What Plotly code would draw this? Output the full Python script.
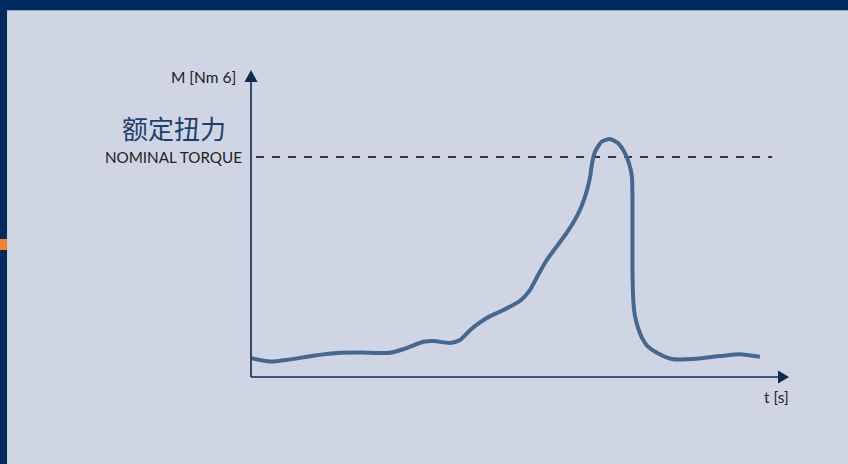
import plotly.graph_objects as go

# ---- data ----
t_s = [0.01, 0.37, 0.77, 1.22, 1.75, 2.14, 2.73, 2.99, 3.38, 3.58, 3.90, 4.10,
       4.29, 4.49, 4.69, 4.88, 5.08, 5.28, 5.47, 5.63, 5.80, 5.99, 6.19, 6.35,
       6.48, 6.59, 6.65, 6.69, 6.75, 6.88, 7.04, 7.20, 7.33, 7.41, 7.47, 7.48,
       7.48, 7.48, 7.50, 7.53, 7.59, 7.67, 7.77, 7.96, 8.25, 8.67, 9.20, 9.59, 9.98]
torque = [0.51, 0.42, 0.48, 0.58, 0.66, 0.67, 0.66, 0.76, 0.96, 0.98, 0.93, 1.01,
          1.27, 1.49, 1.66, 1.78, 1.92, 2.08, 2.37, 2.78, 3.19, 3.55, 3.93, 4.28,
          4.65, 5.10, 5.46, 5.84, 6.15, 6.42, 6.49, 6.37, 6.11, 5.84, 5.46, 4.75,
          3.83, 2.92, 2.02, 1.66, 1.34, 1.06, 0.85, 0.66, 0.49, 0.49, 0.57, 0.62, 0.55]
nominal_torque = 6.0
x_range = [0, 10.55]
y_range = [0, 8.37]

y_label = "M [Nm 6]"
x_label = "t [s]"
nominal_cn = "额定扭力"
nominal_en = "NOMINAL TORQUE"

BG = "#cfd5e2"
NAVY = "#002b5e"
AXIS = "#0e2a50"
CURVE = "#44688f"
ORANGE = "#f5822a"
FONT = "Lato, Noto Sans CJK SC, sans-serif"

fig = go.Figure()

# nominal torque dashed line
fig.add_trace(go.Scatter(
    x=[0.1, 10.22], y=[nominal_torque, nominal_torque], mode="lines",
    line=dict(color="#000000", width=1.4, dash="8px,8px"),
    hoverinfo="skip", showlegend=False))

# torque curve
fig.add_trace(go.Scatter(
    x=t_s, y=torque, mode="lines",
    line=dict(color=CURVE, width=4, shape="spline", smoothing=0.6),
    showlegend=False))

shapes = [
    # frame
    dict(type="rect", xref="paper", yref="paper", x0=-0.6, x1=1.2, y0=1.195, y1=1.3,
         fillcolor=NAVY, line=dict(width=0), layer="below"),
    dict(type="rect", xref="paper", yref="paper", x0=-0.6, x1=-0.4535, y0=-0.4, y1=1.3,
         fillcolor=NAVY, line=dict(width=0), layer="below"),
    dict(type="rect", xref="paper", yref="paper", x0=-0.6, x1=-0.4535, y0=0.4137, y1=0.4495,
         fillcolor=ORANGE, line=dict(width=0), layer="below"),
    # axis lines
    dict(type="line", xref="paper", yref="paper", x0=0, x1=0.99, y0=0, y1=0,
         line=dict(color=AXIS, width=1.6)),
    dict(type="line", xref="paper", yref="paper", x0=0, x1=0, y0=0, y1=0.98,
         line=dict(color=AXIS, width=1.6)),
    # arrowheads
    dict(type="path", xref="paper", yref="paper", xsizemode="pixel", ysizemode="pixel",
         xanchor=1, yanchor=0, path="M 0,0 L -11,6.5 L -11,-6.5 Z",
         fillcolor=AXIS, line=dict(width=0)),
    dict(type="path", xref="paper", yref="paper", xsizemode="pixel", ysizemode="pixel",
         xanchor=0, yanchor=1, path="M 0,0 L -6.5,-12 L 6.5,-12 Z",
         fillcolor=AXIS, line=dict(width=0)),
]

annotations = [
    dict(text=y_label, xref="paper", yref="paper", x=-0.025, y=0.978,
         xanchor="right", yanchor="middle", showarrow=False,
         font=dict(family=FONT, size=15.5, color="#222222")),
    dict(text=nominal_cn, xref="paper", yref="paper", x=-0.143, y=0.808,
         xanchor="center", yanchor="middle", showarrow=False,
         font=dict(family=FONT, size=26, color="#1d3f6d")),
    dict(text=nominal_en, xref="paper", yref="y", x=-0.013, y=nominal_torque,
         xanchor="right", yanchor="middle", showarrow=False,
         font=dict(family=FONT, size=15.2, color="#222222")),
    dict(text=x_label, xref="paper", yref="paper", x=0.977, y=-0.064,
         xanchor="center", yanchor="middle", showarrow=False,
         font=dict(family=FONT, size=15.5, color="#222222")),
]

fig.update_layout(
    width=848, height=464,
    margin=dict(l=251, r=59, t=70, b=87, pad=0),
    paper_bgcolor=BG, plot_bgcolor=BG,
    xaxis=dict(range=x_range, visible=False, fixedrange=True),
    yaxis=dict(range=y_range, visible=False, fixedrange=True),
    shapes=shapes, annotations=annotations,
    showlegend=False,
)

fig.write_html("out.html", config={"displayModeBar": False},
               post_script="document.body.style.margin='0';document.body.style.overflow='hidden';")
